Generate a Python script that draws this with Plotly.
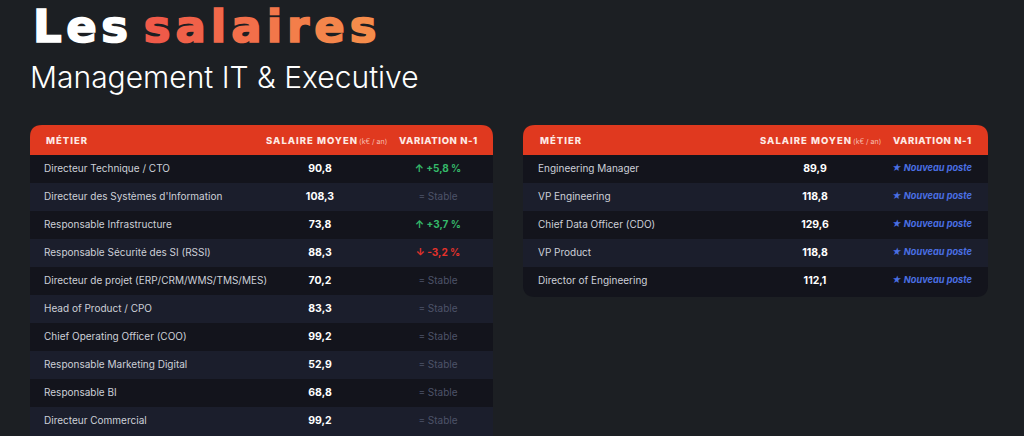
import plotly.graph_objects as go

# --- data -------------------------------------------------------------
left_jobs = [
    "Directeur Technique / CTO",
    "Directeur des Systèmes d'Information",
    "Responsable Infrastructure",
    "Responsable Sécurité des SI (RSSI)",
    "Directeur de projet (ERP/CRM/WMS/TMS/MES)",
    "Head of Product / CPO",
    "Chief Operating Officer (COO)",
    "Responsable Marketing Digital",
    "Responsable BI",
    "Directeur Commercial",
]
left_salaries = [90.8, 108.3, 73.8, 88.3, 70.2, 83.3, 99.2, 52.9, 68.8, 99.2]
left_variation = [5.8, 0, 3.7, -3.2, 0, 0, 0, 0, 0, 0]  # % vs N-1, 0 = stable

right_jobs = [
    "Engineering Manager",
    "VP Engineering",
    "Chief Data Officer (CDO)",
    "VP Product",
    "Director of Engineering",
]
right_salaries = [89.9, 118.8, 129.6, 118.8, 112.1]
right_new = [True, True, True, True, True]

headers = ["MÉTIER", "SALAIRE MOYEN", "VARIATION N-1"]
unit = "(k€ / an)"

# --- style ------------------------------------------------------------
W, H = 1024, 436
BG = "#1c1f23"
RED = "#e0391f"
ROW_DARK = "#13141c"
ROW_LIGHT = "#1b1e2c"
FONT = "Inter, Roboto, sans-serif"
TOP, HEAD_H, ROW_H, RADIUS = 125, 30, 28, 12

tables = [
    dict(x0=30, x1=493, job_x=44, sal_x=320, var_x=438, head_sal_x=389,
         jobs=left_jobs, sal=left_salaries, kind="var", vals=left_variation,
         open_bottom=True),
    dict(x0=523, x1=988, job_x=538, sal_x=815, var_x=932, head_sal_x=883,
         jobs=right_jobs, sal=right_salaries, kind="new", vals=right_new,
         open_bottom=False),
]


def fmt(v):
    return f"{v:.1f}".replace(".", ",")


def variation_label(v):
    if v > 0:
        return f"<b>↑ +{fmt(v)} %</b>", "#35b96a"
    if v < 0:
        return f"<b>↓ -{fmt(abs(v))} %</b>", "#e5322b"
    return "= Stable", "#4d5369"


def spaced(s, px, extra=""):
    return f"<span style='letter-spacing:{px}px;{extra}'>{s[:-1]}</span><span style='{extra}'>{s[-1]}</span>"


def rounded(x0, y0, x1, y1, r, top=True, bottom=False):
    rt = r if top else 0
    rb = r if bottom else 0
    return (f"M {x0},{y0 + rt} Q {x0},{y0} {x0 + rt},{y0} L {x1 - rt},{y0} "
            f"Q {x1},{y0} {x1},{y0 + rt} L {x1},{y1 - rb} Q {x1},{y1} {x1 - rb},{y1} "
            f"L {x0 + rb},{y1} Q {x0},{y1} {x0},{y1 - rb} Z")


fig = go.Figure()
shapes = []
annotations = []

for t in tables:
    n = len(t["jobs"])
    ys = [TOP + HEAD_H + ROW_H * (i + 0.5) for i in range(n)]

    # header band
    shapes.append(dict(type="path", path=rounded(t["x0"], TOP, t["x1"], TOP + HEAD_H + 1, RADIUS),
                       fillcolor=RED, line_width=0, layer="below"))
    # rows
    for i in range(n):
        y0 = TOP + HEAD_H + ROW_H * i
        y1 = y0 + ROW_H
        color = ROW_DARK if i % 2 == 0 else ROW_LIGHT
        last = i == n - 1
        if last and t["open_bottom"]:
            y1 = H + 2
        if last and not t["open_bottom"]:
            shapes.append(dict(type="path", path=rounded(t["x0"], y0, t["x1"], y1 + 2, RADIUS,
                                                         top=False, bottom=True),
                               fillcolor=color, line_width=0, layer="below"))
        else:
            shapes.append(dict(type="rect", x0=t["x0"], x1=t["x1"], y0=y0, y1=y1,
                               fillcolor=color, line_width=0, layer="below"))

    # header labels
    hy = TOP + HEAD_H / 2
    hfont = dict(family=FONT, size=9.5, color="#fdeae5", weight=800)
    annotations += [
        dict(x=t["job_x"], y=hy, text=spaced(headers[0], 1), xanchor="left", font=hfont),
        dict(x=t["head_sal_x"], y=hy, xanchor="right", font=hfont,
             text=f"{spaced(headers[1], 1)} "
                  f"<span style='font-size:7px;font-weight:400;color:#f7bfb1'>{unit}</span>"),
        dict(x=t["var_x"], y=hy, text=spaced(headers[2], 0.6), xanchor="center", font=hfont),
    ]

    # job names
    fig.add_trace(go.Scatter(
        x=[t["job_x"]] * n, y=ys, mode="text", text=t["jobs"],
        textposition="middle right",
        textfont=dict(family=FONT, size=10, color="#cdd0d8"),
        hoverinfo="skip", showlegend=False))
    # salaries
    fig.add_trace(go.Scatter(
        x=[t["sal_x"]] * n, y=ys, mode="text",
        text=[f"<b>{fmt(v)}</b>" for v in t["sal"]],
        textposition="middle center",
        textfont=dict(family=FONT, size=10.5, color="#ffffff"),
        hoverinfo="skip", showlegend=False))
    # variation
    if t["kind"] == "var":
        labels, colors = zip(*[variation_label(v) for v in t["vals"]])
        size = 10
    else:
        labels = ["<b><i>★ Nouveau poste</i></b>" if v else "" for v in t["vals"]]
        colors = ["#4a6fe3"] * n
        size = 9.2
    fig.add_trace(go.Scatter(
        x=[t["var_x"]] * n, y=ys, mode="text", text=list(labels),
        textposition="middle center",
        textfont=dict(family=FONT, size=size, color=list(colors)),
        hoverinfo="skip", showlegend=False))

# title: "Les" in white, "salaires" with an orange gradient
word = "salaires"
c0, c1 = (0xef, 0x5a, 0x49), (0xf5, 0x8c, 0x4b)
letters = []
for k, ch in enumerate(word):
    f = k / (len(word) - 1)
    rgb = "rgb({},{},{})".format(*(round(a + (b - a) * f) for a, b in zip(c0, c1)))
    ls = 5 if k < len(word) - 1 else 0
    letters.append(f"<span style='color:{rgb};stroke:{rgb};stroke-width:1.7px;"
                   f"letter-spacing:{ls}px'>{ch}</span>")
annotations.append(dict(x=31, y=26, xanchor="left", yanchor="middle",
                        text=spaced("Les", 4.5, "stroke:#ffffff;stroke-width:1.7px") + " "
                             + "".join(letters),
                        font=dict(family="DejaVu Sans", size=45, color="#ffffff", weight=900)))
annotations.append(dict(x=28, y=77, xanchor="left", yanchor="middle",
                        text="Management IT & Executive",
                        font=dict(family="Inter, Lato, sans-serif", size=30, color="#ffffff", weight=300)))

for a in annotations:
    a.update(xref="x", yref="y", showarrow=False)

fig.update_layout(
    width=W, height=H, margin=dict(l=0, r=0, t=0, b=0),
    paper_bgcolor=BG, plot_bgcolor=BG,
    xaxis=dict(range=[0, W], visible=False, fixedrange=True),
    yaxis=dict(range=[H, 0], visible=False, fixedrange=True),
    shapes=shapes, annotations=annotations,
)

fig.write_html("out.html", config={"displayModeBar": False},
               post_script="document.body.style.margin='0';"
                           "document.body.style.background='#1c1f23';")
